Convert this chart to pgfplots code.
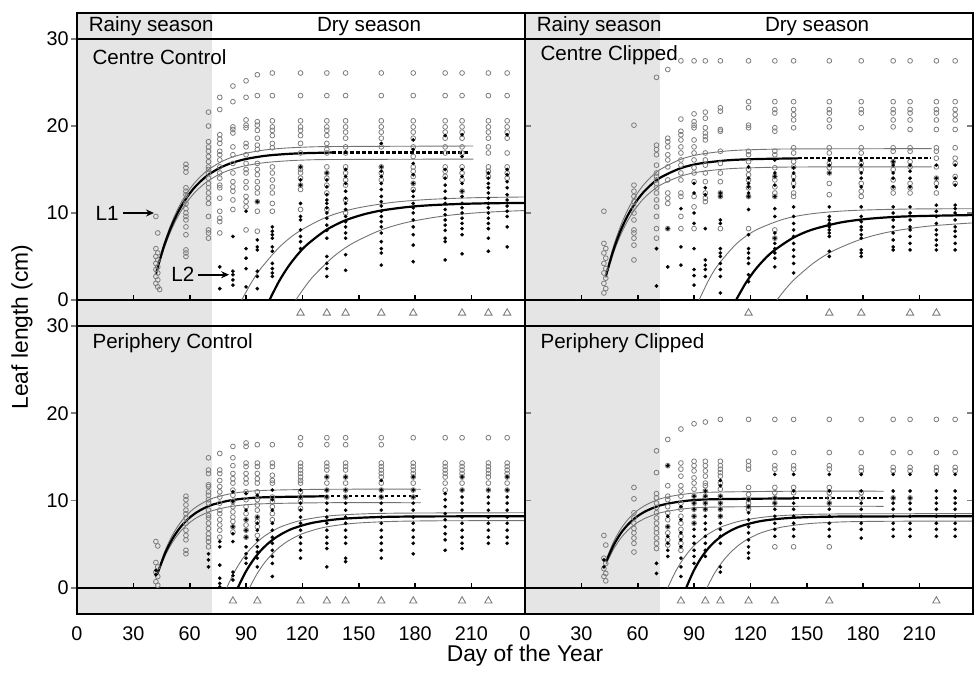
\documentclass[border=0pt]{standalone}
\usepackage{fontspec}
\setmainfont{Liberation Sans}
\usepackage{pgfplots}
\pgfplotsset{compat=1.18}
\usetikzlibrary{arrows.meta}

\definecolor{rainy}{RGB}{229,229,229}
\definecolor{opengray}{RGB}{125,125,125}

\pgfplotsset{
  panel/.style={
    scale only axis, width=224pt, xmin=0, xmax=238.5,
    axis on top,
    axis line style={line width=0.8pt},
    xtick={0,30,...,210}, xtick style={draw=none},
    major tick length=3pt, ytick style={line width=0.8pt},
    tick label style={font=\fontsize{9.9}{11}\selectfont},
    yticklabel style={inner sep=1pt},
    /pgf/number format/assume math mode=true,
  },
  left/.style={ytick={0,10,20,30}, tick align=outside},
  right/.style={ytick={10,20}, yticklabels={}, tick align=inside, xticklabel style={yshift=-3pt}},
  top/.style={panel, height=156.5pt, ymin=-3, ymax=33, xticklabels={}},
  bot/.style={panel, height=144pt, ymin=-3, ymax=30},
  opn/.style={only marks, mark=o, mark size=1.2pt, mark options={draw=opengray, line width=0.4pt}},
  fil/.style={only marks, mark=*, mark size=0.88pt, mark options={fill=black, draw=black, line width=0.1pt}},
  tri/.style={only marks, mark=triangle, mark size=2.1pt, mark options={draw=opengray, line width=0.45pt}},
  fit/.style={black, line width=1.1pt, smooth, no marks},
  ci/.style={black!55, line width=0.45pt, smooth, no marks},
  dots/.style={black, line width=1.1pt, dash pattern=on 1.7pt off 1.3pt, no marks},
}
\newcommand{\panelbase}[1]{%
  \fill[rainy] (axis cs:0,-3) rectangle (axis cs:72,#1);
  \draw[line width=0.8pt] (axis cs:0,0) -- (axis cs:238.5,0);
  \pgfplotsinvokeforeach{30,60,90,120,150,180,210}{\draw[line width=0.8pt] (axis cs:##1,0) -- ([yshift=2.5pt]axis cs:##1,0);}
}
\newcommand{\header}{%
  \draw[line width=0.8pt] (axis cs:0,30) -- (axis cs:238.5,30);
  \node[anchor=west, font=\fontsize{10.3}{12}\selectfont] at (axis cs:2.5,31.45) {Rainy season};
  \node[font=\fontsize{10.3}{12}\selectfont] at (axis cs:155.5,31.45) {Dry season};
}

\begin{document}
\begin{tikzpicture}
\path (0,0) rectangle (487.5pt,-336pt);

% ---------------- Centre Control ----------------
\begin{axis}[top, left, at={(38.5pt,-6.5pt)}, anchor=north west]
\panelbase{33}
\header
\node[anchor=west, font=\fontsize{10.3}{12}\selectfont] at (axis cs:4.5,27.9) {Centre Control};
\addplot[ci] coordinates {(42,3.12)(46,6.23)(50,8.67)(54,10.60)(58,12.12)(62,13.31)(66,14.24)(70,14.99)(76,15.80)(82,16.37)(90,16.87)(100,17.25)(110,17.45)(120,17.56)(136,17.64)(211,17.7)};
\addplot[ci] coordinates {(42,2.86)(46,5.70)(50,7.94)(54,9.70)(58,11.09)(62,12.19)(66,13.04)(70,13.72)(76,14.47)(82,14.99)(90,15.45)(100,15.79)(110,15.97)(120,16.08)(136,16.15)(211,16.2)};
\addplot[ci] coordinates {(87.7,0)(92.7,1.94)(97.7,3.57)(107.7,6.06)(117.7,7.81)(132.7,9.51)(147.7,10.50)(167.7,11.21)(187.7,11.56)(212.7,11.76)(238.5,11.84)};
\addplot[ci] coordinates {(116.5,0)(121.5,1.55)(126.5,2.88)(136.5,4.97)(146.5,6.48)(161.5,8.01)(176.5,8.96)(196.5,9.69)(216.5,10.07)(238.5,10.28)};
\addplot[opn] coordinates {
(42,9.6)(43,7.7)(42,5.9)(43,5.4)(42,5.0)(43,4.6)(42,4.2)(43,3.8)(42,3.5)(43,3.1)(42,2.7)(43,2.3)(42,1.9)(43,1.5)(44,1.2)
(58,15.6)(58,15.2)(58,14.7)(58,12.9)(58,12.5)(58,12.1)(58,11.5)(58,11.1)(58,10.5)(58,10.0)(58,9.6)(58,9.2)(58,8.4)(58,7.5)(58,5.75)(58,5.4)(58,5.0)
(70,21.6)(70,20.0)(70,18.2)(70,17.6)(70,17.1)(70,16.5)(70,15.9)(70,15.3)(70,15.0)(70,14.6)(70,14.0)(70,13.4)(70,12.9)(70,12.3)(70,11.7)(70,11.1)(70,9.6)(70,8.05)(70,7.7)(70,7.1)
(76,23.3)(76,21.9)(76,19.0)(76,18.5)(76,18.0)(76,17.1)(76,16.7)(76,16.1)(76,15.3)(76,14.6)(76,14.0)(76,13.2)(76,12.9)(76,11.7)(76,10.2)(76,9.4)(76,9.0)(76,7.7)
(83,24.6)(83,22.8)(83,19.9)(83,19.6)(83,19.2)(83,17.6)(83,16.7)(83,15.7)(83,14.6)(83,13.6)(83,13.0)(83,12.5)(83,11.5)(83,10.4)
(90,25.2)(90,23.3)(90,20.7)(90,20.1)(90,19.8)(90,18.0)(90,17.6)(90,16.7)(90,15.7)(90,15.0)(90,14.6)(90,13.6)(90,12.9)(90,11.9)(90,11.3)(90,10.7)(90,8.05)
(96,25.9)(96,23.5)(96,20.5)(96,20.1)(96,19.5)(96,18.6)(96,17.8)(96,17.3)(96,15.7)(96,15.0)(96,14.4)(96,13.6)(96,12.9)(96,12.3)(96,11.3)(96,10.2)(96,7.9)
(104,26.1)(104,23.5)(104,20.6)(104,19.9)(104,19.5)(104,18.9)(104,18.0)(104,17.5)(104,15.3)(104,14.6)(104,13.8)(104,13.0)(104,12.3)(104,11.1)(104,10.2)
(119,26.1)(119,23.5)(119,20.6)(119,19.9)(119,19.5)(119,18.9)(119,18.0)(119,16.9)(119,15.3)(119,15.0)(119,14.6)(119,14.0)(119,13.2)(119,12.7)(119,10.4)
(133,26.1)(133,23.5)(133,20.6)(133,19.9)(133,19.5)(133,18.9)(133,18.0)(133,17.3)(133,16.9)(133,15.3)(133,14.6)(133,14.0)(133,13.2)(133,12.3)(133,10.4)
(143,26.1)(143,23.5)(143,20.6)(143,19.9)(143,19.3)(143,18.6)(143,17.6)(143,16.9)(143,15.3)(143,14.6)(143,13.8)(143,13.2)(143,11.5)(143,10.0)
(162,26.1)(162,23.5)(162,20.6)(162,19.9)(162,19.3)(162,18.6)(162,17.6)(162,15.3)(162,14.6)(162,13.8)
(179,26.1)(179,23.5)(179,20.6)(179,19.9)(179,19.3)(179,18.6)(179,17.6)(179,16.5)(179,15.3)(179,14.8)(179,14.2)(179,13.4)(179,12.7)
(196,26.1)(196,23.5)(196,20.6)(196,19.9)(196,19.3)(196,18.6)(196,17.6)(196,16.9)(196,15.3)(196,14.8)(196,14.2)
(205,26.1)(205,23.5)(205,20.6)(205,19.9)(205,19.3)(205,18.6)(205,17.6)(205,16.9)(205,15.3)(205,14.6)(205,13.8)(205,12.5)
(219,26.1)(219,23.5)(219,20.6)(219,19.9)(219,19.3)(219,18.6)(219,17.6)(219,16.9)(219,15.3)(219,14.8)(219,14.2)
(229,26.1)(229,23.5)(229,20.6)(229,19.9)(229,19.3)(229,18.6)(229,16.9)(229,15.3)(229,14.6)(229,14.0)
};
\addplot[fil] coordinates {
(76,3.8)(76,1.3)
(83,7.3)(83,3.3)(83,2.9)(83,2.3)(83,1.7)
(90,10.2)(90,5.9)(90,4.8)(90,3.6)(90,1.5)
(96,11.3)(96,6.9)(96,6.1)(96,5.75)(96,3.3)(96,2.7)(96,1.3)
(104,8.4)(104,7.9)(104,7.5)(104,7.1)(104,6.1)(104,5.6)(104,4.2)(104,3.6)(104,3.1)(104,2.7)
(119,15.3)(119,13.8)(119,13.2)(119,11.1)(119,9.6)(119,9.2)(119,8.05)(119,7.3)(119,6.7)(119,5.9)
(133,14.6)(133,13.8)(133,13.0)(133,12.1)(133,11.5)(133,11.1)(133,10.6)(133,10.0)(133,9.4)(133,8.6)(133,8.0)(133,7.1)(133,5.0)(133,4.2)(133,3.6)(133,2.7)
(143,17.0)(143,15.0)(143,14.2)(143,13.4)(143,12.5)(143,11.7)(143,11.1)(143,10.4)(143,9.6)(143,9.0)(143,8.4)(143,7.7)(143,7.1)(143,5.2)(143,3.4)
(162,18.0)(162,15.3)(162,14.8)(162,14.2)(162,13.4)(162,12.7)(162,11.9)(162,11.3)(162,10.8)(162,10.2)(162,9.6)(162,9.0)(162,8.4)(162,7.7)(162,6.7)(162,5.9)(162,5.4)(162,4.0)
(179,18.4)(179,17.3)(179,15.7)(179,14.4)(179,13.4)(179,12.5)(179,11.9)(179,11.1)(179,10.6)(179,10.0)(179,9.2)(179,8.4)(179,7.5)(179,6.3)(179,4.4)
(196,18.9)(196,15.0)(196,14.0)(196,13.2)(196,12.5)(196,11.7)(196,11.1)(196,10.4)(196,9.8)(196,9.2)(196,8.6)(196,8.0)(196,7.1)(196,6.7)(196,4.6)
(205,19.0)(205,16.5)(205,15.0)(205,14.2)(205,13.4)(205,12.5)(205,11.9)(205,11.1)(205,10.6)(205,10.0)(205,9.4)(205,8.8)(205,8.2)(205,7.5)(205,5.3)
(219,14.6)(219,14.0)(219,13.4)(219,12.9)(219,12.3)(219,11.7)(219,11.1)(219,10.6)(219,10.0)(219,9.4)(219,8.8)(219,8.2)(219,7.1)(219,5.6)
(229,19.0)(229,15.0)(229,14.4)(229,13.6)(229,12.9)(229,12.1)(229,11.5)(229,10.8)(229,10.2)(229,9.6)(229,8.4)(229,6.1)
};
\addplot[fit] coordinates {(42,3.0)(46,5.98)(50,8.33)(54,10.18)(58,11.64)(62,12.79)(66,13.68)(70,14.40)(76,15.18)(82,15.73)(90,16.21)(100,16.57)(110,16.76)(120,16.87)(136,16.95)};
\addplot[dots] coordinates {(136,16.95)(209,16.95)};
\addplot[fit] coordinates {(102.5,0)(107.5,2.12)(112.5,3.84)(117.5,5.23)(122.5,6.36)(132.5,8.02)(142.5,9.12)(152.5,9.83)(162.5,10.30)(177.5,10.72)(192.5,10.94)(212.5,11.09)(238.5,11.16)};
\addplot[tri] coordinates {(119,-1.5)(133,-1.5)(143,-1.5)(162,-1.5)(179,-1.5)(205,-1.5)(219,-1.5)(229,-1.5)};
\node[font=\fontsize{10.3}{12}\selectfont] at (axis cs:16,10) {L1};
\draw[-{Stealth[length=4pt,width=3.5pt]}, line width=0.9pt] (axis cs:24.5,10) -- (axis cs:41,10);
\node[font=\fontsize{10.3}{12}\selectfont] at (axis cs:56.3,2.9) {L2};
\draw[-{Stealth[length=4pt,width=3.5pt]}, line width=0.9pt] (axis cs:64.5,2.9) -- (axis cs:81,2.9);
\end{axis}

% ---------------- Centre Clipped ----------------
\begin{axis}[top, right, at={(262.5pt,-6.5pt)}, anchor=north west]
\panelbase{33}
\header
\node[anchor=west, font=\fontsize{10.3}{12}\selectfont] at (axis cs:4.5,28.2) {Centre Clipped};
\addplot[ci] coordinates {(43,2.88)(47,6.07)(51,8.56)(55,10.50)(59,12.00)(63,13.20)(68,14.32)(73,15.13)(83,16.18)(93,16.74)(108,17.14)(123,17.29)(145.5,17.37)(216.5,17.4)};
\addplot[ci] coordinates {(43,2.54)(47,5.34)(51,7.53)(55,9.24)(59,10.56)(63,11.62)(68,12.60)(73,13.32)(83,14.24)(93,14.73)(108,15.08)(123,15.21)(145.5,15.29)(216.5,15.3)};
\addplot[ci] coordinates {(92.7,0)(97.7,2.24)(102.7,4.00)(112.7,6.48)(122.7,8.01)(137.7,9.29)(152.7,9.91)(172.7,10.27)(202.7,10.45)(238.5,10.49)};
\addplot[ci] coordinates {(134.1,0)(139.1,1.35)(144.1,2.50)(154.1,4.32)(164.1,5.65)(179.1,6.99)(194.1,7.83)(214.1,8.47)(238.5,8.86)};
\addplot[opn] coordinates {
(42,10.2)(42,6.5)(43,5.9)(42,5.4)(43,4.8)(42,4.2)(43,3.6)(42,3.1)(43,2.5)(42,1.9)(43,1.3)(42,0.8)
(58,20.1)(58,13.2)(58,12.5)(58,11.9)(58,11.3)(58,10.7)(58,10.0)(58,9.2)(58,8.05)(58,7.7)(58,7.1)(58,6.3)(58,4.6)
(70,25.6)(70,17.8)(70,17.3)(70,16.7)(70,15.5)(70,14.6)(70,14.2)(70,13.8)(70,13.4)(70,12.9)(70,12.3)(70,11.5)(70,10.7)(70,9.6)(70,8.2)(70,7.1)
(76,26.5)(76,18.6)(76,18.2)(76,17.6)(76,16.7)(76,16.1)(76,15.3)(76,13.8)(76,12.3)(76,11.7)(76,11.1)(76,8.2)
(83,27.5)(83,20.8)(83,19.4)(83,19.0)(83,18.4)(83,17.6)(83,16.9)(83,16.1)(83,15.5)(83,14.6)(83,13.8)(83,12.3)(83,11.9)(83,9.6)(83,8.2)
(90,27.5)(90,21.4)(90,20.5)(90,20.1)(90,19.8)(90,18.4)(90,17.6)(90,16.9)(90,16.1)(90,15.2)(90,14.6)(90,13.6)(90,11.9)(90,10.7)(90,8.2)
(96,27.5)(96,21.6)(96,20.9)(96,19.8)(96,19.2)(96,18.8)(96,18.4)(96,16.9)(96,16.1)(96,15.5)(96,14.6)(96,13.6)(96,12.3)(96,11.7)(96,11.3)
(104,27.5)(104,22.1)(104,21.7)(104,19.6)(104,19.4)(104,17.1)(104,15.7)(104,14.6)(104,13.6)(104,12.3)(104,11.9)(104,8.2)
(119,27.5)(119,22.8)(119,22.1)(119,20.1)(119,19.8)(119,17.1)(119,16.7)(119,15.9)(119,15.0)(119,14.4)(119,13.8)(119,12.9)(119,11.9)(119,8.2)
(133,27.5)(133,22.8)(133,21.9)(133,21.5)(133,19.8)(133,19.4)(133,17.1)(133,16.7)(133,15.2)(133,14.2)(133,13.8)(133,13.0)(133,12.3)(133,11.9)(133,8.05)(133,7.1)
(143,27.5)(143,22.8)(143,21.9)(143,21.3)(143,20.7)(143,19.8)(143,17.5)(143,16.9)(143,15.9)(143,15.3)(143,14.2)(143,13.4)(143,12.3)(143,11.9)
(162,27.5)(162,22.8)(162,21.9)(162,21.5)(162,20.7)(162,19.9)(162,17.5)(162,16.9)(162,15.7)(162,15.2)(162,14.6)(162,13.4)(162,12.1)
(179,27.5)(179,22.8)(179,21.9)(179,21.5)(179,19.8)(179,17.5)(179,16.9)(179,15.7)(179,15.0)(179,13.4)(179,12.5)(179,11.9)
(196,27.5)(196,22.8)(196,21.9)(196,21.5)(196,20.7)(196,19.9)(196,17.5)(196,17.1)(196,15.9)(196,15.0)(196,13.8)(196,12.9)(196,12.3)
(205,27.5)(205,22.8)(205,21.9)(205,21.5)(205,20.7)(205,19.6)(205,17.5)(205,17.1)(205,15.9)(205,15.3)(205,13.4)(205,12.9)(205,12.3)
(219,27.5)(219,22.8)(219,21.9)(219,21.5)(219,20.7)(219,19.6)(219,17.5)(219,17.1)(219,16.3)(219,15.3)(219,14.0)(219,13.4)(219,12.3)
(229,27.5)(229,22.8)(229,21.9)(229,21.3)(229,20.7)(229,19.6)(229,17.5)(229,16.3)(229,15.7)(229,14.2)(229,13.4)
};
\addplot[fil] coordinates {
(70,5.9)(70,1.6)
(76,8.2)(76,3.8)
(83,10.5)(83,6.1)(83,4.0)
(90,13.4)(90,12.3)(90,10.0)(90,8.8)(90,5.9)(90,3.5)(90,2.8)(90,1.7)
(96,12.9)(96,12.1)(96,8.2)(96,4.6)(96,4.0)(96,3.5)(96,2.7)
(104,12.3)(104,11.9)(104,9.2)(104,8.8)(104,5.9)(104,5.4)(104,5.0)(104,4.2)(104,3.5)(104,2.7)(104,0.8)
(119,15.3)(119,14.0)(119,13.4)(119,13.0)(119,12.3)(119,11.9)(119,10.4)(119,7.5)(119,5.9)(119,5.4)(119,4.8)(119,4.2)(119,2.9)(119,2.1)
(133,16.1)(133,14.6)(133,14.2)(133,13.2)(133,11.9)(133,10.5)(133,9.6)(133,7.7)(133,7.1)(133,6.5)(133,5.9)(133,5.4)(133,4.8)(133,3.8)
(143,15.2)(143,14.6)(143,13.8)(143,13.0)(143,10.7)(143,9.6)(143,8.8)(143,8.05)(143,7.3)(143,6.5)(143,5.75)(143,5.0)(143,4.2)(143,3.1)
(162,16.1)(162,15.5)(162,14.6)(162,10.7)(162,9.6)(162,9.2)(162,8.8)(162,8.4)(162,8.05)(162,7.7)(162,7.3)(162,5.6)(162,5.0)
(179,16.1)(179,15.5)(179,14.6)(179,14.0)(179,13.0)(179,10.7)(179,9.6)(179,9.0)(179,8.4)(179,8.05)(179,7.5)(179,7.1)(179,5.75)(179,5.4)(179,5.0)
(196,15.9)(196,15.5)(196,14.6)(196,14.0)(196,13.0)(196,10.7)(196,10.0)(196,9.2)(196,8.4)(196,7.7)(196,6.9)(196,6.1)(196,5.75)
(205,15.5)(205,14.8)(205,14.0)(205,13.0)(205,10.7)(205,10.0)(205,9.2)(205,8.4)(205,8.05)(205,7.3)(205,6.5)(205,5.75)
(219,15.5)(219,14.0)(219,13.0)(219,10.9)(219,10.2)(219,9.6)(219,8.8)(219,8.05)(219,7.5)(219,6.9)(219,6.3)(219,5.75)
(229,15.5)(229,14.0)(229,13.2)(229,10.9)(229,10.5)(229,10.0)(229,9.2)(229,8.4)(229,7.9)(229,7.3)(229,6.5)(229,5.75)
};
\addplot[fit] coordinates {(43,2.70)(47,5.69)(51,8.02)(55,9.84)(59,11.25)(63,12.37)(68,13.42)(73,14.18)(83,15.16)(93,15.69)(108,16.06)(123,16.20)(145.5,16.28)};
\addplot[dots] coordinates {(145.5,16.28)(215.8,16.28)};
\addplot[fit] coordinates {(112.4,0)(117.4,1.90)(122.4,3.43)(127.4,4.66)(132.4,5.65)(142.4,7.10)(152.4,8.05)(167.4,8.88)(182.4,9.32)(202.4,9.60)(238.5,9.76)};
\addplot[tri] coordinates {(119,-1.5)(162,-1.5)(179,-1.5)(205,-1.5)(219,-1.5)};
\end{axis}

% ---------------- Periphery Control ----------------
\begin{axis}[bot, left, at={(38.5pt,-163pt)}, anchor=north west]
\panelbase{30}
\node[anchor=west, font=\fontsize{10.3}{12}\selectfont] at (axis cs:4.5,28.0) {Periphery Control};
\addplot[ci] coordinates {(42.8,1.72)(46.8,4.21)(50.8,6.04)(54.8,7.40)(58.8,8.41)(62.8,9.17)(67.8,9.83)(72.8,10.30)(82.8,10.82)(97.8,11.15)(132,11.29)(183,11.3)};
\addplot[ci] coordinates {(42.8,1.49)(46.8,3.63)(50.8,5.21)(54.8,6.39)(58.8,7.26)(62.8,7.92)(67.8,8.49)(72.8,8.89)(82.8,9.35)(97.8,9.62)(132,9.75)(183,9.75)};
\addplot[ci] coordinates {(79.7,0)(83.7,1.78)(87.7,3.19)(91.7,4.31)(95.7,5.20)(99.7,5.91)(104.7,6.58)(109.7,7.09)(119.7,7.75)(134.7,8.25)(154.7,8.49)(179.7,8.57)(238.5,8.6)};
\addplot[ci] coordinates {(91.8,0)(95.8,1.59)(99.8,2.86)(103.8,3.86)(107.8,4.66)(111.8,5.29)(116.8,5.89)(121.8,6.34)(131.8,6.94)(146.8,7.38)(166.8,7.60)(191.8,7.68)(238.5,7.7)};
\addplot[opn] coordinates {
(42,5.3)(43,4.8)(42,2.9)(43,2.4)(42,1.8)(43,1.3)(42,0.7)(43,0.3)
(58,10.5)(58,10.1)(58,9.5)(58,8.9)(58,8.5)(58,8.0)(58,7.4)(58,6.6)(58,6.0)(58,5.5)(58,4.3)(58,3.9)
(70,14.9)(70,13.5)(70,13.1)(70,11.8)(70,11.6)(70,11.0)(70,10.6)(70,10.1)(70,9.7)(70,8.9)(70,8.3)(70,8.0)(70,7.4)(70,6.8)(70,6.2)(70,5.7)(70,5.3)(70,4.7)
(76,15.4)(76,13.5)(76,13.1)(76,12.3)(76,11.6)(76,11.0)(76,10.4)(76,9.7)(76,8.9)(76,8.5)(76,7.8)(76,7.2)(76,6.6)(76,5.8)
(83,16.2)(83,14.9)(83,14.0)(83,13.1)(83,12.5)(83,12.0)(83,11.2)(83,10.6)(83,9.9)(83,9.3)(83,8.7)(83,8.1)(83,7.6)(83,7.0)(83,6.4)
(90,16.6)(90,16.2)(90,14.3)(90,13.9)(90,13.1)(90,12.5)(90,12.0)(90,11.0)(90,10.1)(90,9.3)(90,8.5)(90,7.8)(90,7.2)(90,6.6)(90,5.8)
(96,16.4)(96,14.3)(96,13.9)(96,13.1)(96,12.5)(96,12.0)(96,11.0)(96,10.1)(96,9.5)(96,8.9)(96,8.1)(96,7.6)(96,7.0)(96,6.0)
(104,16.4)(104,14.3)(104,13.9)(104,12.9)(104,12.3)(104,12.0)(104,10.4)(104,9.9)(104,9.3)(104,8.5)(104,7.8)
(119,17.2)(119,16.4)(119,14.3)(119,13.9)(119,13.5)(119,13.1)(119,12.7)(119,12.3)(119,12.0)(119,11.0)(119,10.4)(119,9.9)(119,9.1)
(133,17.2)(133,16.4)(133,14.3)(133,13.9)(133,13.5)(133,12.7)(133,12.0)(133,11.2)(133,10.4)
(143,17.2)(143,16.4)(143,14.3)(143,13.9)(143,13.5)(143,12.7)(143,12.0)(143,11.2)(143,10.4)
(162,17.2)(162,16.4)(162,14.3)(162,13.9)(162,13.5)(162,13.1)(162,12.7)(162,12.0)(162,11.2)(162,10.4)
(179,17.2)(179,14.3)(179,13.9)(179,13.5)(179,13.1)(179,12.7)(179,12.0)(179,11.2)(179,10.4)
(196,17.2)(196,14.3)(196,13.9)(196,13.5)(196,13.1)(196,12.7)(196,12.0)(196,11.2)
(205,17.2)(205,14.3)(205,13.9)(205,13.5)(205,13.1)(205,12.7)(205,12.0)(205,11.2)
(219,17.2)(219,14.3)(219,13.9)(219,13.5)(219,13.1)(219,12.7)(219,12.0)(219,11.2)
(229,17.2)(229,14.3)(229,13.9)(229,13.5)(229,13.1)(229,12.7)(229,12.0)(229,11.2)
};
\addplot[fil] coordinates {
(42,2.0)(42,1.5)
(70,3.9)(70,3.2)(70,2.4)
(76,5.3)(76,4.7)(76,2.6)(76,1.1)(76,0.5)(76,0.1)
(83,11.0)(83,9.9)(83,7.0)(83,6.2)(83,5.3)(83,1.8)(83,1.4)(83,0.9)
(90,10.8)(90,8.9)(90,7.8)(90,6.6)(90,5.8)(90,4.7)(90,3.9)(90,3.4)(90,2.8)
(96,10.6)(96,8.1)(96,7.4)(96,6.6)(96,5.5)(96,4.7)(96,4.1)(96,3.4)(96,2.4)
(104,11.2)(104,10.1)(104,8.9)(104,7.4)(104,6.6)(104,5.8)(104,5.1)(104,4.3)(104,3.6)(104,2.8)(104,1.3)
(119,11.2)(119,10.4)(119,9.7)(119,8.9)(119,8.1)(119,7.4)(119,6.6)(119,5.8)(119,5.1)(119,4.3)(119,3.4)
(133,12.7)(133,11.2)(133,10.4)(133,9.7)(133,8.9)(133,8.1)(133,7.4)(133,6.6)(133,5.8)(133,5.1)(133,4.5)(133,2.4)
(143,12.7)(143,11.2)(143,10.4)(143,9.7)(143,8.9)(143,8.1)(143,7.4)(143,6.6)(143,5.8)(143,5.1)(143,3.4)(143,3.0)
(162,12.3)(162,11.2)(162,10.4)(162,9.7)(162,8.9)(162,8.1)(162,7.4)(162,6.6)(162,5.8)(162,5.1)(162,4.3)(162,3.4)
(179,12.7)(179,11.2)(179,10.4)(179,9.7)(179,8.9)(179,8.1)(179,7.4)(179,6.6)(179,5.8)(179,5.1)(179,3.9)
(196,10.8)(196,10.1)(196,9.3)(196,8.5)(196,7.8)(196,7.0)(196,6.2)(196,5.5)(196,4.3)
(205,12.7)(205,11.2)(205,10.4)(205,9.7)(205,8.9)(205,8.1)(205,7.4)(205,6.6)(205,5.8)(205,5.1)(205,4.5)
(219,11.2)(219,10.4)(219,9.7)(219,8.9)(219,8.1)(219,7.4)(219,6.6)(219,5.8)(219,5.1)
(229,12.7)(229,11.2)(229,10.4)(229,9.7)(229,8.9)(229,8.1)(229,7.4)(229,6.6)(229,5.8)(229,5.1)
};
\addplot[fit] coordinates {(42.8,1.60)(46.8,3.91)(50.8,5.61)(54.8,6.88)(58.8,7.82)(62.8,8.52)(67.8,9.14)(72.8,9.57)(82.8,10.06)(97.8,10.36)(132,10.49)};
\addplot[dots] coordinates {(132,10.49)(181.8,10.49)};
\addplot[fit] coordinates {(85.6,0)(89.6,1.75)(93.6,3.12)(97.6,4.21)(101.6,5.06)(105.6,5.73)(110.6,6.37)(115.6,6.85)(125.6,7.46)(140.6,7.90)(160.6,8.11)(185.6,8.18)(238.5,8.2)};
\addplot[tri] coordinates {(83,-1.5)(96,-1.5)(119,-1.5)(133,-1.5)(143,-1.5)(162,-1.5)(179,-1.5)(205,-1.5)(219,-1.5)};
\end{axis}

% ---------------- Periphery Clipped ----------------
\begin{axis}[bot, right, at={(262.5pt,-163pt)}, anchor=north west]
\panelbase{30}
\node[anchor=west, font=\fontsize{10.3}{12}\selectfont] at (axis cs:4.5,28.0) {Periphery Clipped};
\addplot[ci] coordinates {(43.2,3.24)(47.2,5.29)(51.2,6.81)(55.2,7.93)(59.2,8.75)(63.2,9.35)(68.2,9.89)(73.2,10.27)(83.2,10.69)(98.2,10.95)(143.8,11.07)(190.9,11.07)};
\addplot[ci] coordinates {(43.2,2.73)(47.2,4.46)(51.2,5.75)(55.2,6.69)(59.2,7.38)(63.2,7.89)(68.2,8.34)(73.2,8.66)(83.2,9.02)(98.2,9.24)(143.8,9.34)(190.9,9.34)};
\addplot[ci] coordinates {(76,0)(80,1.81)(84,3.24)(88,4.36)(92,5.24)(96,5.94)(101,6.60)(106,7.10)(116,7.73)(131,8.19)(151,8.41)(176,8.48)(238.5,8.5)};
\addplot[ci] coordinates {(96.8,0)(100.8,1.63)(104.8,2.91)(108.8,3.92)(112.8,4.72)(116.8,5.35)(121.8,5.94)(126.8,6.39)(136.8,6.96)(151.8,7.37)(171.8,7.57)(196.8,7.63)(238.5,7.65)};
\addplot[opn] coordinates {
(42,6.0)(43,4.9)(42,3.4)(43,2.8)(42,2.2)(43,1.65)(42,1.3)(43,0.8)
(58,11.5)(58,10.2)(58,8.6)(58,8.0)(58,7.4)(58,6.8)(58,6.3)(58,5.7)(58,5.1)(58,4.1)
(70,15.7)(70,13.2)(70,10.8)(70,10.3)(70,9.7)(70,9.2)(70,8.6)(70,8.0)(70,7.4)(70,6.8)(70,6.3)(70,5.7)(70,5.1)(70,4.5)
(76,17.0)(76,14.0)(76,11.7)(76,10.5)(76,10.1)(76,9.3)(76,8.6)(76,7.8)(76,7.0)(76,6.3)(76,5.5)(76,4.9)
(83,18.2)(83,14.3)(83,13.6)(83,12.8)(83,11.7)(83,11.1)(83,10.5)(83,9.7)(83,9.0)(83,8.2)(83,7.4)(83,6.7)(83,5.9)(83,5.1)(83,4.3)
(90,18.8)(90,14.5)(90,14.0)(90,13.4)(90,12.6)(90,12.0)(90,11.3)(90,10.5)(90,9.7)(90,9.0)(90,8.2)(90,7.4)
(96,19.0)(96,14.5)(96,14.0)(96,13.4)(96,12.8)(96,12.0)(96,11.7)(96,11.1)(96,10.5)(96,9.7)(96,9.0)
(104,19.3)(104,14.5)(104,14.0)(104,13.6)(104,13.2)(104,12.8)(104,12.0)(104,11.3)(104,10.5)(104,9.7)(104,9.0)(104,8.2)
(119,19.3)(119,14.5)(119,14.0)(119,13.6)(119,11.5)(119,10.7)(119,10.1)(119,9.7)(119,9.3)(119,9.0)
(133,19.3)(133,15.5)(133,14.0)(133,13.6)(133,11.5)(133,10.9)(133,10.3)(133,9.7)(133,4.7)
(143,19.3)(143,15.5)(143,14.0)(143,13.6)(143,11.5)(143,10.9)(143,4.7)
(162,19.3)(162,15.5)(162,14.0)(162,13.6)(162,11.5)(162,10.9)(162,10.3)(162,9.7)(162,4.7)
(179,19.3)(179,15.5)(179,13.8)(179,13.4)(179,10.9)(179,10.3)
(196,19.3)(196,15.5)(196,13.8)(196,13.4)(196,10.3)
(205,19.3)(205,15.5)(205,13.8)(205,13.4)(205,10.3)
(219,19.3)(219,15.5)(219,13.8)(219,13.4)
(229,19.3)(229,15.5)(229,13.8)(229,13.4)
};
\addplot[fil] coordinates {
(42,3.2)(42,2.4)
(70,2.8)(70,1.65)
(76,14.0)(76,8.2)(76,7.0)(76,5.9)(76,5.1)(76,4.3)(76,3.6)
(83,9.3)(83,7.8)(83,6.3)(83,5.5)(83,4.7)(83,3.4)(83,2.4)(83,1.3)
(90,10.5)(90,9.7)(90,9.0)(90,8.2)(90,7.4)(90,6.7)(90,5.9)(90,5.1)(90,4.3)(90,3.6)(90,2.8)
(96,11.1)(96,10.5)(96,9.7)(96,9.0)(96,8.2)(96,7.4)(96,6.7)(96,5.9)(96,5.1)(96,4.3)(96,3.6)
(104,12.3)(104,11.7)(104,10.5)(104,9.7)(104,9.0)(104,8.2)(104,7.4)(104,6.7)(104,5.9)(104,5.1)(104,2.4)(104,1.8)
(119,10.1)(119,9.3)(119,8.6)(119,7.8)(119,7.0)(119,6.3)(119,5.5)(119,4.7)(119,4.0)(119,3.4)
(133,13.0)(133,10.3)(133,9.7)(133,9.0)(133,8.2)(133,7.4)(133,6.7)(133,5.9)
(143,13.0)(143,11.1)(143,10.3)(143,9.7)(143,9.0)(143,8.2)(143,7.4)(143,6.7)(143,5.9)
(162,13.0)(162,11.1)(162,9.7)(162,9.0)(162,8.2)(162,7.4)(162,6.7)(162,5.9)
(179,13.0)(179,11.1)(179,9.7)(179,9.0)(179,8.2)(179,7.4)(179,6.7)(179,5.7)
(196,13.0)(196,11.1)(196,10.3)(196,9.7)(196,9.0)(196,8.2)(196,7.4)(196,6.7)(196,5.9)
(205,13.0)(205,11.1)(205,10.3)(205,9.7)(205,9.0)(205,8.2)(205,7.4)(205,6.7)(205,5.9)
(219,13.0)(219,11.1)(219,10.3)(219,9.7)(219,9.0)(219,8.2)(219,7.4)(219,6.7)(219,5.9)
(229,13.0)(229,11.1)(229,10.3)(229,9.7)(229,9.0)(229,8.2)(229,7.4)(229,6.7)(229,5.9)
};
\addplot[fit] coordinates {(43.2,3.0)(47.2,4.90)(51.2,6.31)(55.2,7.34)(59.2,8.10)(63.2,8.66)(68.2,9.16)(73.2,9.51)(83.2,9.90)(98.2,10.14)(143.8,10.25)};
\addplot[dots] coordinates {(143.8,10.25)(190.9,10.25)};
\addplot[fit] coordinates {(85.8,0)(89.8,1.95)(93.8,3.44)(97.8,4.58)(101.8,5.44)(105.8,6.09)(110.8,6.70)(115.8,7.13)(125.8,7.66)(140.8,8.0)(165.8,8.16)(238.5,8.2)};
\addplot[tri] coordinates {(83,-1.5)(96,-1.5)(104,-1.5)(119,-1.5)(133,-1.5)(162,-1.5)(219,-1.5)};
\end{axis}

\node[rotate=90, font=\fontsize{11.4}{13}\selectfont] at (11pt,-163.5pt) {Leaf length (cm)};
\node[font=\fontsize{11.4}{13}\selectfont] at (262.5pt,-328pt) {Day of the Year};
\end{tikzpicture}
\end{document}
